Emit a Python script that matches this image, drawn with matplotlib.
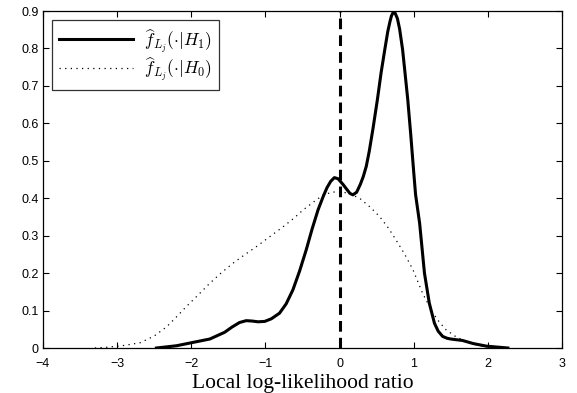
import numpy as np
import matplotlib
matplotlib.use('Agg')
import matplotlib.pyplot as plt

plt.rcParams['mathtext.fontset'] = 'cm'
plt.rcParams['font.family'] = ['Liberation Sans', 'DejaVu Sans']

# Densidade estimada sob H1 (linha cheia)
x_h1 = [-2.47, -2.2, -2.0, -1.75, -1.55, -1.45, -1.35, -1.26, -1.18, -1.1, -1.01, -0.92,
        -0.81, -0.72, -0.63, -0.54, -0.45, -0.37, -0.29, -0.22, -0.17, -0.12, -0.07, -0.02,
        0.05, 0.1, 0.14, 0.18, 0.23, 0.28, 0.32, 0.36, 0.40, 0.45, 0.51, 0.56, 0.61, 0.65,
        0.68, 0.70, 0.727, 0.75, 0.78, 0.81, 0.85, 0.88, 0.92, 0.96, 1.0, 1.025, 1.08,
        1.145, 1.21, 1.28, 1.33, 1.39, 1.45, 1.5, 1.66, 1.8, 1.98, 2.27]
y_h1 = [0.0, 0.006, 0.014, 0.024, 0.042, 0.056, 0.068, 0.073, 0.072, 0.07, 0.071, 0.078,
        0.093, 0.118, 0.155, 0.205, 0.262, 0.318, 0.369, 0.405, 0.428, 0.445, 0.455, 0.452,
        0.436, 0.423, 0.413, 0.409, 0.416, 0.437, 0.458, 0.485, 0.525, 0.585, 0.663, 0.735,
        0.797, 0.845, 0.872, 0.887, 0.898, 0.894, 0.88, 0.852, 0.797, 0.74, 0.663, 0.57,
        0.47, 0.41, 0.333, 0.2, 0.12, 0.066, 0.045, 0.031, 0.026, 0.024, 0.02, 0.012,
        0.005, 0.0]

# Densidade estimada sob H0 (pontilhada)
x_h0 = [-3.3, -3.14, -2.9, -2.69, -2.5, -2.33, -2.2, -2.07, -1.9, -1.75, -1.6, -1.44,
        -1.28, -1.12, -0.95, -0.76, -0.62, -0.49, -0.35, -0.22, -0.1, 0.0, 0.12, 0.27,
        0.42, 0.54, 0.66, 0.76, 0.88, 0.99, 1.12, 1.26, 1.35, 1.44, 1.57, 1.71, 1.85,
        1.98, 2.1]
y_h0 = [0.0, 0.002, 0.007, 0.014, 0.032, 0.057, 0.083, 0.11, 0.143, 0.173, 0.2, 0.226,
        0.249, 0.271, 0.296, 0.324, 0.346, 0.369, 0.39, 0.409, 0.416, 0.418, 0.413, 0.40,
        0.375, 0.351, 0.32, 0.289, 0.25, 0.209, 0.146, 0.093, 0.068, 0.048, 0.03, 0.017,
        0.008, 0.003, 0.0]

x_ticks = [-4, -3, -2, -1, 0, 1, 2, 3]
y_ticks = [0, 0.1, 0.2, 0.3, 0.4, 0.5, 0.6, 0.7, 0.8, 0.9]

fig = plt.figure(figsize=(5.77, 3.93), dpi=100)
ax = fig.add_axes([0.0745, 0.1145, 0.8995, 0.8575])

ax.plot(x_h1, y_h1, color='black', linewidth=2.2, label=r'$\widehat{f}_{L_j}(\cdot|H_1)$')
ax.plot(x_h0, y_h0, color='black', linewidth=0.9, linestyle=(0, (1, 3.5)),
        label=r'$\widehat{f}_{L_j}(\cdot|H_0)$')
ax.axvline(0, color='black', linewidth=2.2, linestyle=(0, (3.5, 2)))

ax.set_xlim(-4, 3)
ax.set_ylim(0, 0.9)
ax.set_xticks(x_ticks)
ax.set_yticks(y_ticks)
ax.set_xticklabels(['\u22124', '\u22123', '\u22122', '\u22121', '0', '1', '2', '3'])
ax.set_yticklabels(['0', '0.1', '0.2', '0.3', '0.4', '0.5', '0.6', '0.7', '0.8', '0.9'])
ax.tick_params(direction='in', top=True, right=True, labelsize=9, length=4, width=0.8)
ax.tick_params(axis='x', pad=7)
ax.tick_params(axis='y', pad=3)
for s in ax.spines.values():
    s.set_linewidth(0.9)

ax.set_xlabel('Local log-likelihood ratio', family='Liberation Serif', fontsize=15.5, labelpad=3)

leg = ax.legend(loc='upper left', fontsize=12.5, frameon=True, fancybox=False,
                edgecolor='black', borderaxespad=0.5, handlelength=4.3, labelspacing=0.05,
                borderpad=0.4, handletextpad=0.6)
leg.get_frame().set_linewidth(0.9)

plt.savefig('out.png', dpi=100)
